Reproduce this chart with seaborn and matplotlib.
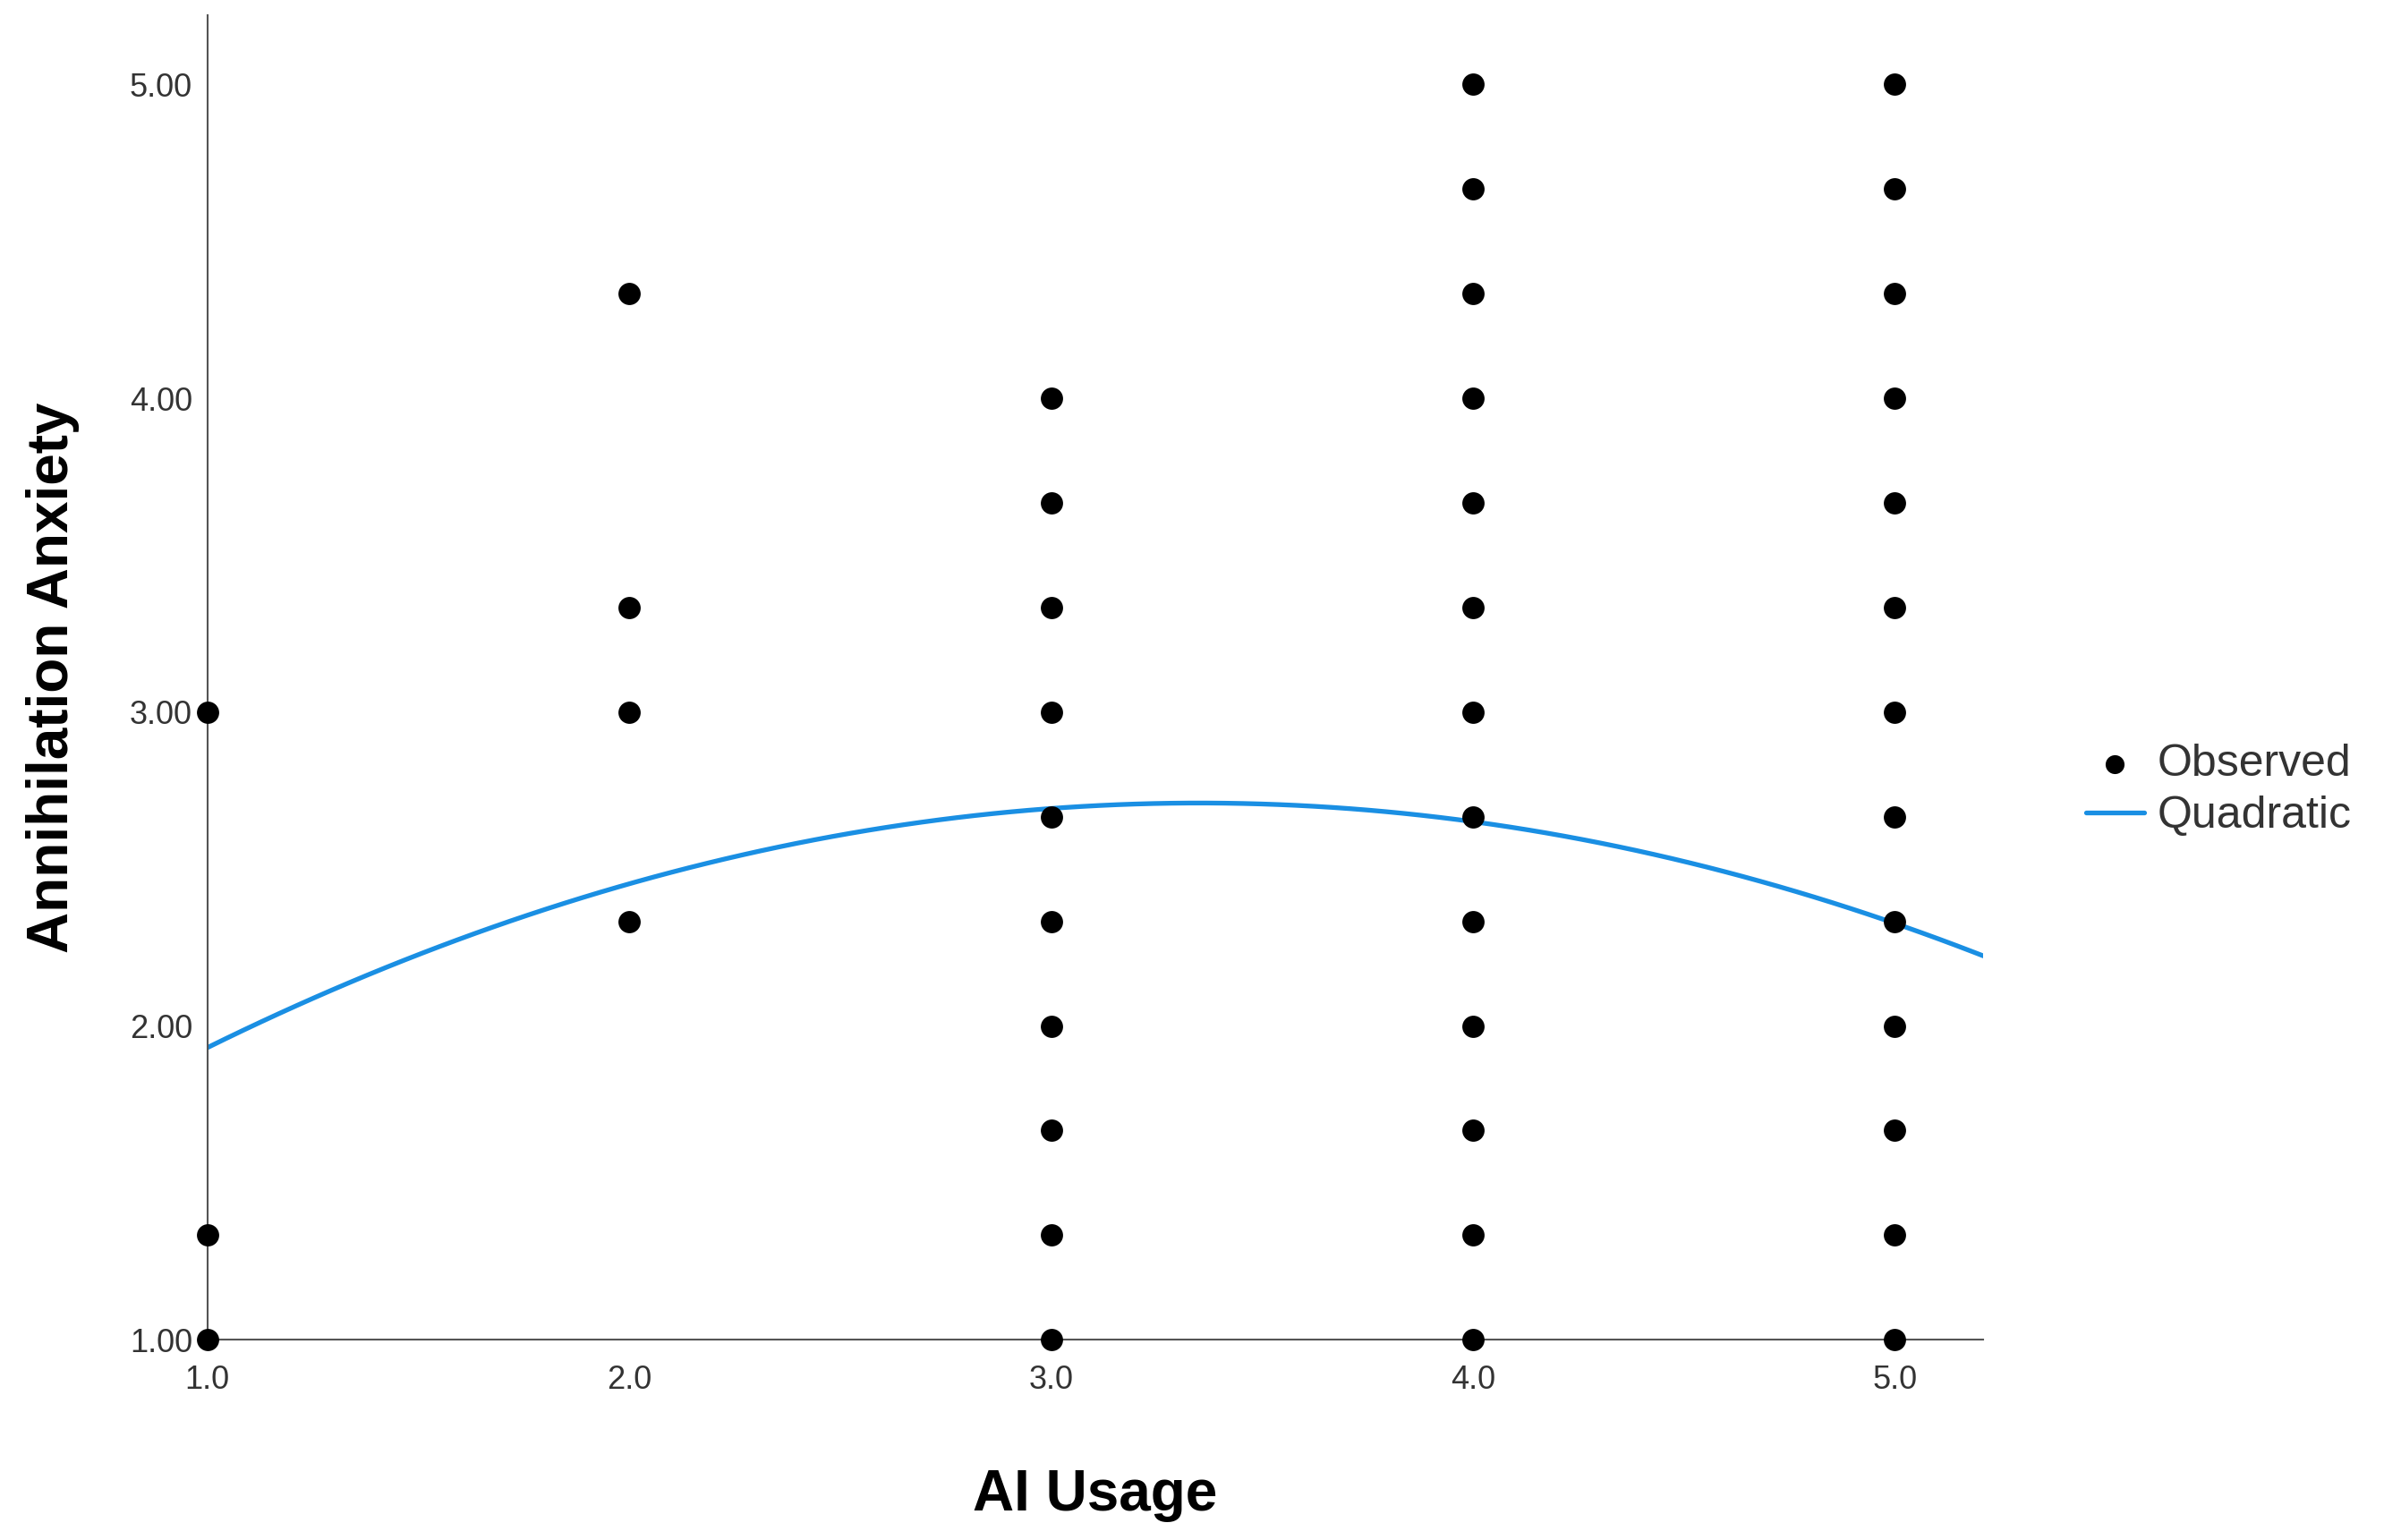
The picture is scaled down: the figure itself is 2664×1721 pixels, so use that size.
import matplotlib
matplotlib.use("Agg")
import matplotlib.pyplot as plt
import seaborn as sns
import numpy as np
import pandas as pd

sns.set_style("white")
plt.rcParams['font.family'] = ['Liberation Sans', 'DejaVu Sans']

x1 = [1.0, 1.0, 1.0]
y1 = [3.0, 1.333, 1.0]
x2 = [2.0] * 4
y2 = [4.333, 3.333, 3.0, 2.333]
x3 = [3.0] * 10
y3 = [4.0, 3.667, 3.333, 3.0, 2.667, 2.333, 2.0, 1.667, 1.333, 1.0]
levels = [5.0, 4.667, 4.333, 4.0, 3.667, 3.333, 3.0, 2.667, 2.333, 2.0, 1.667, 1.333, 1.0]
x4 = [4.0] * 13
y4 = levels
x5 = [5.0] * 13
y5 = levels
quad_coef = [-0.141, 0.945, 1.127]  # a, b, c
xticks = [1.0, 2.0, 3.0, 4.0, 5.0]
yticks = [1.0, 2.0, 3.0, 4.0, 5.0]

df = pd.DataFrame({"x": x1 + x2 + x3 + x4 + x5, "y": y1 + y2 + y3 + y4 + y5})
xs = np.linspace(1.0, 5.21, 200)
a, b, c = quad_coef
qf = pd.DataFrame({"x": xs, "y": a * xs**2 + b * xs + c})

fig = plt.figure(figsize=(26.64, 17.21), dpi=100)
ax = fig.add_axes([0.087, 0.13, 0.745, 0.86])
sns.scatterplot(data=df, x="x", y="y", ax=ax, color="black", s=320, edgecolor="black",
                linewidth=0, label="Observed", clip_on=False, zorder=3)
sns.lineplot(data=qf, x="x", y="y", ax=ax, color="#1a8fe3", linewidth=3.8, label="Quadratic", zorder=2)

ax.set_xlim(1.0, 5.21)
ax.set_ylim(1.0, 5.22)
ax.set_xticks(xticks)
ax.set_xticklabels([f"{v:.1f}" for v in xticks])
ax.set_yticks(yticks)
ax.set_yticklabels([f"{v:.2f}" for v in yticks])
ax.tick_params(axis="x", labelsize=26, colors="#333333", length=0, pad=20)
ax.tick_params(axis="y", labelsize=26, colors="#333333", length=0, pad=12)
for s in ["top", "right"]:
    ax.spines[s].set_visible(False)
for s in ["left", "bottom"]:
    ax.spines[s].set_color("#555555")
    ax.spines[s].set_linewidth(1.5)
ax.set_xlabel("AI Usage", fontsize=46, fontweight="bold", labelpad=58, color="black")
ax.set_ylabel("Annihilation Anxiety", fontsize=46, fontweight="bold", labelpad=40, color="black")
leg = ax.legend(loc="center left", bbox_to_anchor=(1.035, 0.415), frameon=False, fontsize=36,
                handlelength=1.3, handletextpad=0.3, markerscale=0.85, labelspacing=0.25)
for t in leg.get_texts():
    t.set_color("#333333")
fig.savefig("out.png", dpi=100)
